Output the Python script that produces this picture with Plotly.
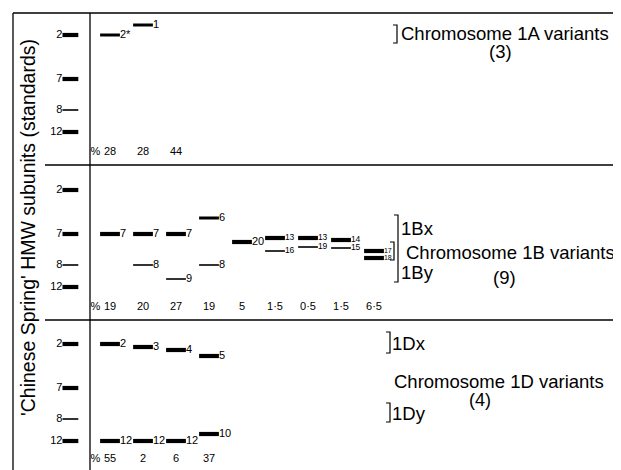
import plotly.graph_objects as go

# ---------------- data ----------------
# relative mobility scale (larger = further migration, lower on the gel)
STANDARD_LABELS = ["2", "7", "8", "12"]
STANDARD_MOBILITY = [24, 68, 99, 121]

# Chromosome 1A variants
A_LANES = [1, 2]
A_MOBILITY = [24, 14]
A_LABELS = ["2*", "1"]
A_PERCENT = ["28", "28", "44"]

# Chromosome 1B variants
B_LANES = [1, 2, 2, 3, 3, 4, 4, 5, 6, 6, 7, 7, 8, 8, 9, 9]
B_MOBILITY = [68, 68, 99, 68, 113, 52, 99, 76, 72, 85, 72, 81, 74, 82, 85, 92]
B_LABELS = ["7", "7", "8", "7", "9", "6", "8", "20", "13", "16", "13", "19", "14", "15", "17", "18"]
B_PERCENT = ["19", "20", "27", "19", "5", "1·5", "0·5", "1·5", "6·5"]

# Chromosome 1D variants
D_LANES = [1, 1, 2, 2, 3, 3, 4, 4]
D_MOBILITY = [24, 121, 27, 121, 30, 121, 36, 114]
D_LABELS = ["2", "12", "3", "12", "4", "12", "5", "10"]
D_PERCENT = ["55", "2", "6", "37"]

# ---------------- styling ----------------
OFF = 8                      # page (body) margin of the html page
W, H = 621 - OFF, 470 - OFF  # figure size so that it fits the window
FONT = "Liberation Sans, Arial, Helvetica, sans-serif"
THIN = {"8", "9", "16", "19", "15"}
MEDIUM = {"2*", "1", "6"}
STD_LANE = -0.2
STD_HALF = 0.24
BAND_HALF = 0.3
PCT_LANE = 0.56
PCT_LEVEL = [141, 141, 139]


def thickness(lbl, std=False):
    if lbl in THIN:
        return 1.6
    if lbl in MEDIUM and not std:
        return 3
    return 4.2


def label_size(lane):
    if lane >= 9:
        return 7
    if lane >= 6:
        return 8.5
    return 11


fig = go.Figure()


def add_bands(lanes, mob, labels, yaxis):
    for ln, m, lb in zip(lanes, mob, labels):
        fig.add_trace(go.Scatter(
            x=[ln - BAND_HALF, ln + BAND_HALF], y=[m, m], mode="lines",
            line=dict(color="black", width=thickness(lb)), yaxis=yaxis,
            hoverinfo="skip", showlegend=False))
    fig.add_trace(go.Scatter(
        x=[ln + BAND_HALF for ln in lanes], y=mob, mode="text", text=labels,
        textposition="middle right",
        textfont=dict(size=[label_size(ln) for ln in lanes], color="black", family=FONT),
        yaxis=yaxis, hoverinfo="skip", showlegend=False))


def add_standards(yaxis):
    for m, lb in zip(STANDARD_MOBILITY, STANDARD_LABELS):
        fig.add_trace(go.Scatter(
            x=[STD_LANE - STD_HALF, STD_LANE + STD_HALF], y=[m, m], mode="lines",
            line=dict(color="black", width=thickness(lb, True)), yaxis=yaxis,
            hoverinfo="skip", showlegend=False))
    fig.add_trace(go.Scatter(
        x=[STD_LANE - STD_HALF] * len(STANDARD_LABELS), y=STANDARD_MOBILITY, mode="text",
        text=STANDARD_LABELS, textposition="middle left",
        textfont=dict(size=11, color="black", family=FONT),
        yaxis=yaxis, hoverinfo="skip", showlegend=False))


def add_percent(pcts, yaxis, level):
    lanes = list(range(1, len(pcts) + 1))
    fig.add_trace(go.Scatter(
        x=[PCT_LANE] + lanes, y=[level] * (len(pcts) + 1), mode="text",
        text=["%"] + pcts, textposition="middle center",
        textfont=dict(size=11, color="black", family=FONT),
        yaxis=yaxis, hoverinfo="skip", showlegend=False))


for yax, lvl, (lanes, mob, labels, pcts) in zip(
        ["y", "y2", "y3"], PCT_LEVEL,
        [(A_LANES, A_MOBILITY, A_LABELS, A_PERCENT),
         (B_LANES, B_MOBILITY, B_LABELS, B_PERCENT),
         (D_LANES, D_MOBILITY, D_LABELS, D_PERCENT)]):
    add_standards(yax)
    add_bands(lanes, mob, labels, yax)
    add_percent(pcts, yax, lvl)


def px(x):
    return (x - OFF) / W


def py(y):
    return 1 - (y - OFF) / H


# lane 1 at window pixel 110, 33 px per lane
x0 = 1 - (110 - OFF) / 33
x1 = x0 + W / 33
hidden = dict(visible=False, showgrid=False, zeroline=False, fixedrange=True)

shapes = []
line = dict(color="black", width=1.3)
for (xa, ya, xb, yb) in [(13, 13, 618, 13), (13, 13, 13, 470), (90, 13, 90, 470),
                         (45, 165, 618, 165), (45, 320, 618, 320)]:
    shapes.append(dict(type="line", xref="paper", yref="paper",
                       x0=px(xa), y0=py(ya), x1=px(xb), y1=py(yb), line=line))


def bracket(xp, yref, v0, v1, tick=4):
    return dict(type="path", xref="paper", yref=yref,
                path=f"M {px(xp - tick)} {v0} L {px(xp)} {v0} L {px(xp)} {v1} L {px(xp - tick)} {v1}",
                line=dict(color="black", width=1.2))


shapes.append(bracket(397, "y", 14, 32))
shapes.append(bracket(398, "y2", 49, 116))
shapes.append(bracket(394, "y2", 76, 94))
shapes.append(bracket(390, "y3", 12, 33))
shapes.append(bracket(390, "y3", 83, 102))

annotations = []


def ann(text, xp, yref, v, anchor="left", size=18.5):
    annotations.append(dict(text=text, xref="paper", yref=yref, x=px(xp), y=v,
                            xanchor=anchor, yanchor="middle", showarrow=False,
                            font=dict(size=size, color="black", family=FONT)))


ann("Chromosome 1A variants", 399, "y", 22)
ann("(3)", 500, "y", 40, "center")
ann("1Bx", 399, "y2", 62)
ann("Chromosome 1B variants", 404, "y2", 86)
ann("1By", 399, "y2", 106)
ann("(9)", 504, "y2", 111, "center")
ann("1Dx", 390, "y3", 23)
ann("Chromosome 1D variants", 392, "y3", 61)
ann("(4)", 480, "y3", 80, "center", 18)
ann("1Dy", 390, "y3", 93)

annotations.append(dict(text="'Chinese Spring' HMW subunits (standards)", xref="paper", yref="paper",
                        x=px(28), y=py(228), textangle=-90, showarrow=False,
                        xanchor="center", yanchor="middle",
                        font=dict(size=19.5, color="black", family=FONT)))

fig.update_layout(
    width=W, height=H, margin=dict(l=0, r=0, t=0, b=0),
    paper_bgcolor="white", plot_bgcolor="white", showlegend=False,
    xaxis=dict(range=[x0, x1], domain=[0, 1], **hidden),
    yaxis=dict(range=[154, 2], domain=[py(165), py(13)], **hidden),
    yaxis2=dict(range=[154, -1], domain=[py(320), py(165)], **hidden),
    yaxis3=dict(range=[150, 0], domain=[0, py(320)], **hidden),
    shapes=shapes, annotations=annotations,
)

fig.write_html("out.html")
